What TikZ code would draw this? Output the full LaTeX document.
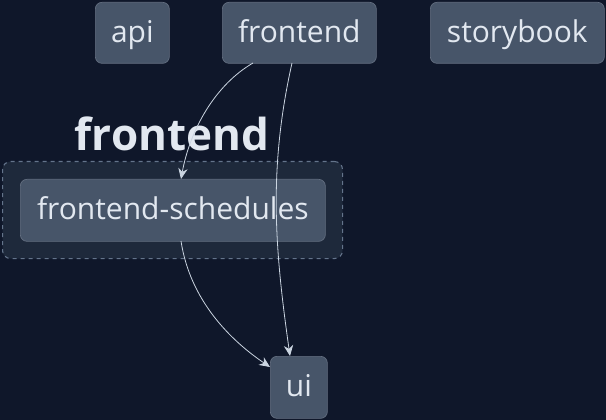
\documentclass[tikz,border=0pt]{standalone}
\usepackage{fontspec}
\setmainfont{Open Sans}
\usetikzlibrary{arrows.meta}
\definecolor{bg}{HTML}{0F172A}
\definecolor{nodefill}{HTML}{475569}
\definecolor{clusterfill}{HTML}{1E293B}
\definecolor{clusterline}{HTML}{64748B}
\definecolor{txt}{HTML}{E2E8F0}
\definecolor{edge}{HTML}{CBD5E1}
\tikzset{
  box/.style={draw=nodefill!85!white, line width=0.5pt, fill=nodefill, rounded corners=5pt, text=txt, font=\fontsize{22.5}{26}\selectfont, inner sep=0pt, text height=16.5pt, text depth=2.5pt, anchor=north west},
  link/.style={draw=edge, line width=0.6pt, -{Stealth[length=8pt,width=7pt]}},
}
\begin{document}
\begin{tikzpicture}[x=0.75pt,y=-0.75pt]
\fill[bg] (0,0) rectangle (606,420);
\useasboundingbox (0,0) rectangle (606,420);
\node[draw=clusterline, dashed, line width=0.8pt, fill=clusterfill, rounded corners=6pt, minimum width=340*0.75pt, minimum height=97*0.75pt, anchor=north west, inner sep=0pt] (cl) at (2,161) {};
\node[text=txt, font=\fontsize{33}{36}\bfseries\selectfont, inner sep=0pt] (title) at (172,134) {frontend};
\node[box, minimum width=74*0.75pt, minimum height=61*0.75pt] (api) at (95,2) {api};
\node[box, minimum width=154*0.75pt, minimum height=61*0.75pt] (fe) at (222,2) {frontend};
\node[box, minimum width=174*0.75pt, minimum height=61*0.75pt] (sb) at (430,2) {storybook};
\node[box, minimum width=305*0.75pt, minimum height=62*0.75pt] (fs) at (20,179) {frontend-schedules};
\node[box, minimum width=57*0.75pt, minimum height=62*0.75pt] (ui) at (270,356) {ui};
\coordinate (feA) at (253,63);
\coordinate (feB) at (292,63);
\coordinate (fsA) at (181,179);
\coordinate (fsB) at (181,241);
\coordinate (uiA) at (290,356);
\coordinate (uiB) at (270,367);
\draw[link] (feA) .. controls (215,85) and (190,130) .. (fsA);
\draw[link] (feB) .. controls (268,170) and (275,250) .. (uiA);
\draw[link] (fsB) .. controls (190,300) and (230,340) .. (uiB);
\end{tikzpicture}
\end{document}
